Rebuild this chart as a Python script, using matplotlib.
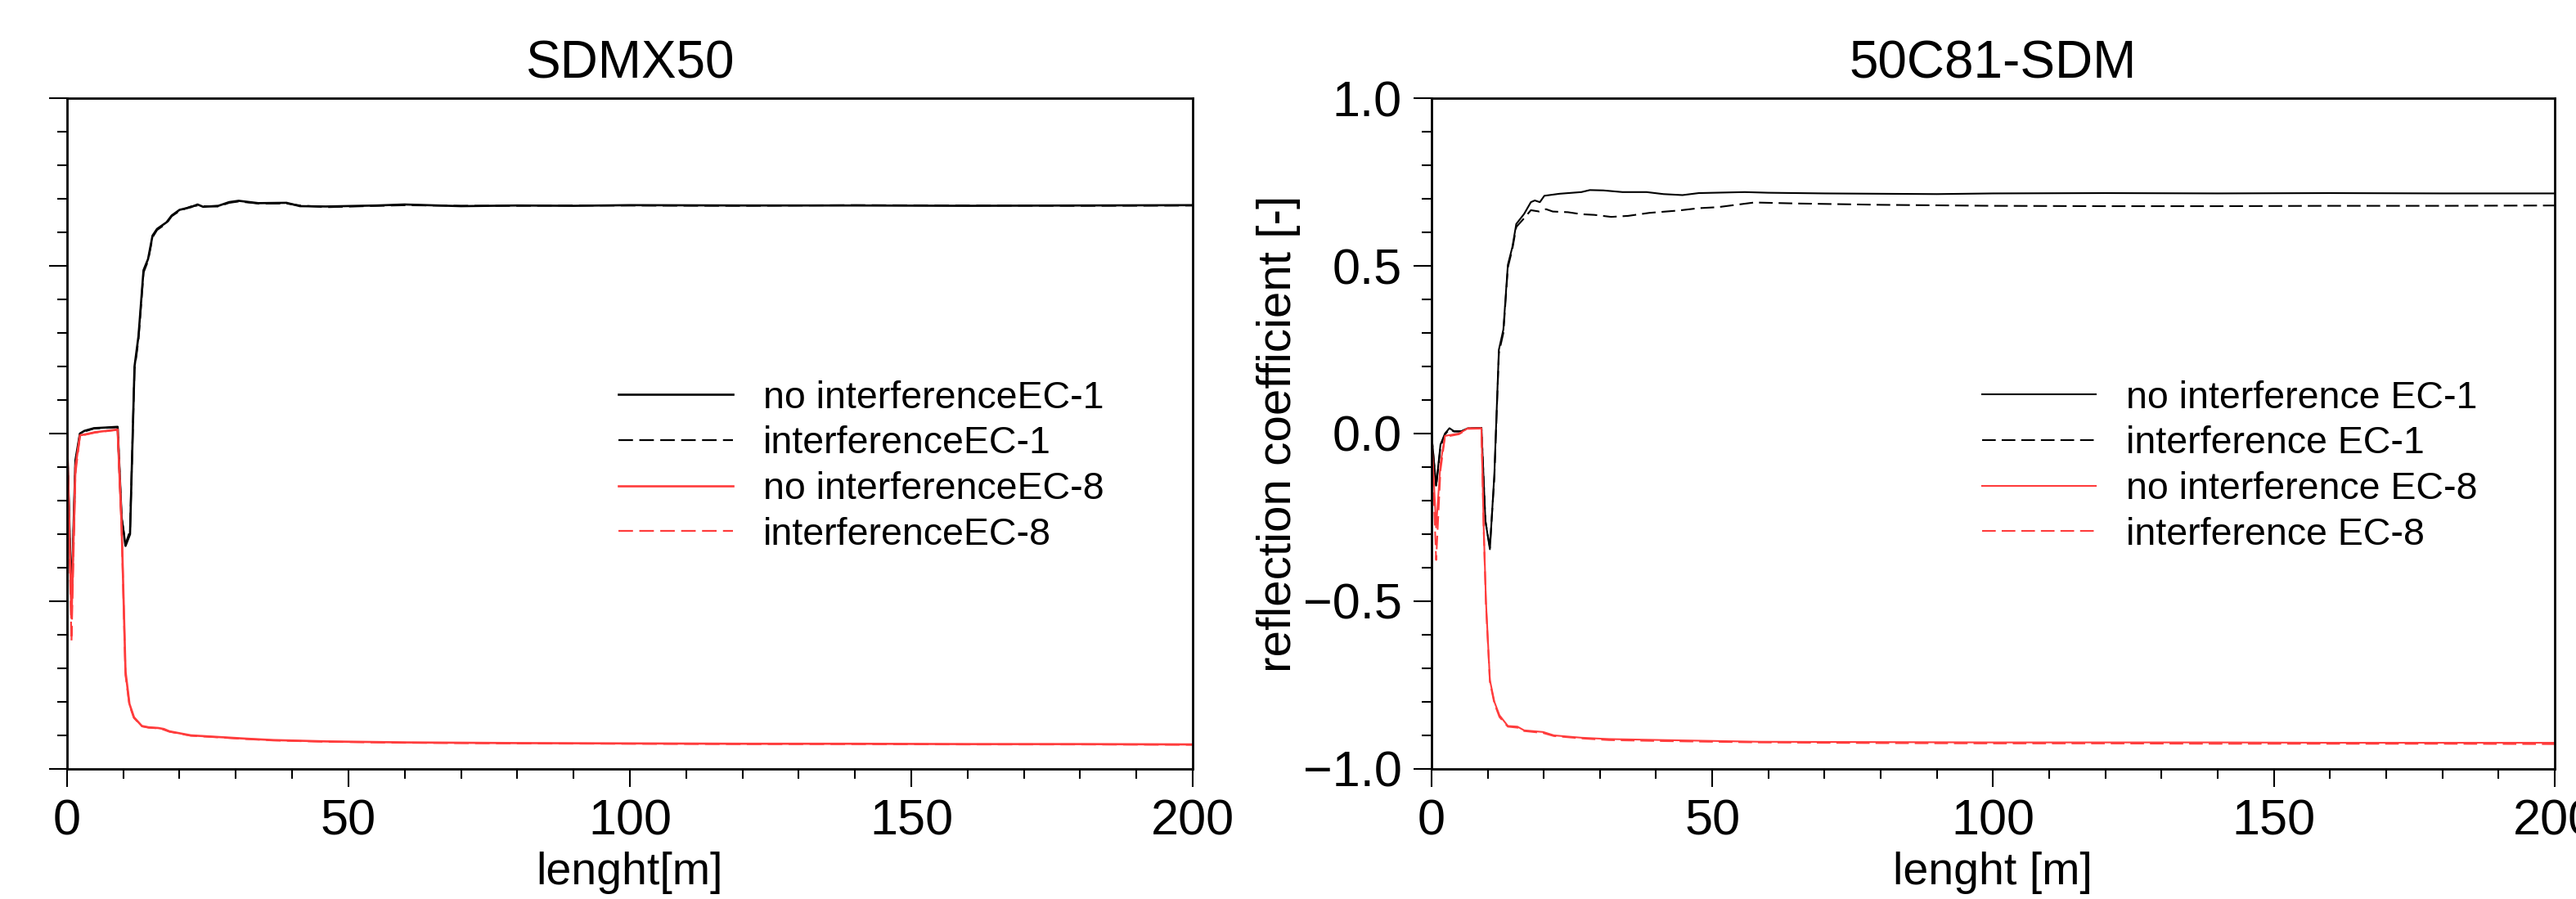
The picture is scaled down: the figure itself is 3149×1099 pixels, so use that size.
#!/usr/bin/env python3

import matplotlib
matplotlib.use('Agg')  # Use non-interactive backend
import matplotlib.pyplot as plt
from matplotlib.ticker import MultipleLocator

plt.rcParams['font.family'] = ['Liberation Sans', 'DejaVu Sans']

# ---- data (length in m, reflection coefficient) ----

# SDMX50
sdmx_x_ec1 = [0, 0.8, 1.5, 2.3, 3.1, 4.8, 7, 9, 9.7, 10.4, 11.2, 12, 12.7, 13.6, 14.4,
              15.2, 16, 17.7, 18.6, 20, 22, 23.2, 24.2, 26.9, 28.8, 30.5, 34, 39, 41.4,
              46, 55, 60, 70, 80, 90, 100, 120, 140, 160, 180, 200]
sdmx_noint_ec1 = [0, -0.50, -0.08, 0, 0.008, 0.016, 0.018, 0.02, -0.25, -0.335, -0.30,
                  0.20, 0.29, 0.487, 0.52, 0.59, 0.61, 0.63, 0.65, 0.667, 0.675, 0.683,
                  0.676, 0.679, 0.69, 0.694, 0.687, 0.688, 0.678, 0.677, 0.68, 0.683,
                  0.678, 0.68, 0.679, 0.681, 0.68, 0.68, 0.679, 0.68, 0.681]
sdmx_int_ec1 = [0, -0.52, -0.09, -0.002, 0.006, 0.015, 0.017, 0.019, -0.25, -0.33, -0.29,
                0.19, 0.28, 0.48, 0.515, 0.585, 0.607, 0.627, 0.648, 0.664, 0.677, 0.680,
                0.678, 0.677, 0.688, 0.692, 0.686, 0.686, 0.680, 0.675, 0.679, 0.681,
                0.679, 0.679, 0.680, 0.680, 0.679, 0.681, 0.680, 0.679, 0.680]

sdmx_x_ec8 = [0, 0.8, 1.5, 2.3, 3.1, 5, 7, 9, 9.7, 10.4, 11.1, 11.9, 13.3, 14.5, 16.2,
              17.2, 18.2, 20.1, 22, 27, 32, 36.6, 46, 60, 80, 100, 120, 140, 160, 180, 200]
sdmx_noint_ec8 = [0, -0.55, -0.10, -0.005, -0.003, 0.004, 0.008, 0.012, -0.27, -0.71,
                  -0.806, -0.846, -0.872, -0.876, -0.878, -0.881, -0.888, -0.894, -0.90,
                  -0.905, -0.91, -0.914, -0.918, -0.921, -0.923, -0.924, -0.925, -0.925,
                  -0.926, -0.926, -0.927]
sdmx_int_ec8 = [0, -0.62, -0.12, -0.008, -0.004, 0.003, 0.007, 0.011, -0.28, -0.72,
                -0.81, -0.848, -0.873, -0.877, -0.879, -0.883, -0.889, -0.895, -0.901,
                -0.906, -0.911, -0.915, -0.919, -0.922, -0.924, -0.925, -0.926, -0.926,
                -0.927, -0.927, -0.928]

# 50C81-SDM
c81_x_noint_ec1 = [0, 0.83, 1.6, 2.4, 3.2, 4, 5.3, 6.5, 8.9, 9.6, 10.4, 11.2, 12, 12.8,
                   13.6, 14.4, 15.1, 16.5, 17.7, 18.4, 19.3, 20.1, 22.8, 26.7, 28.2, 30.6,
                   34, 38.3, 41.3, 44.7, 47.6, 55.8, 60, 70, 80, 90, 100, 120, 140, 160,
                   180, 200]
c81_noint_ec1 = [0, -0.155, -0.033, 0, 0.016, 0.007, 0.007, 0.016, 0.017, -0.26, -0.345,
                 -0.12, 0.25, 0.31, 0.503, 0.556, 0.625, 0.655, 0.69, 0.695, 0.69, 0.709,
                 0.715, 0.72, 0.726, 0.725, 0.72, 0.72, 0.714, 0.711, 0.717, 0.72, 0.718,
                 0.716, 0.715, 0.714, 0.716, 0.717, 0.716, 0.717, 0.716, 0.716]

c81_x_int_ec1 = [0, 0.83, 1.6, 2.4, 3.2, 4, 5.3, 6.5, 8.9, 9.6, 10.4, 11.2, 12, 12.8,
                 13.6, 14.4, 15.1, 16.5, 17.7, 19.2, 20.4, 21.6, 24.3, 26.7, 29, 32, 35,
                 38.8, 44, 47.6, 51, 57.5, 65, 80, 100, 120, 140, 160, 180, 200]
c81_int_ec1 = [0, -0.16, -0.04, -0.003, 0.013, 0.006, 0.006, 0.015, 0.017, -0.26, -0.34,
               -0.13, 0.24, 0.30, 0.495, 0.55, 0.616, 0.642, 0.666, 0.662, 0.669, 0.662,
               0.66, 0.654, 0.652, 0.646, 0.649, 0.658, 0.665, 0.672, 0.675, 0.689, 0.686,
               0.682, 0.679, 0.678, 0.678, 0.679, 0.679, 0.68]

c81_x_ec8 = [0, 0.83, 1.6, 2.4, 4.9, 6.5, 8.9, 9.3, 9.7, 10.4, 11.2, 12.1, 13.6, 15.3,
             16.5, 19.9, 21.8, 26.7, 31.6, 41.3, 58.3, 80, 100, 120, 140, 160, 180, 200]
c81_noint_ec8 = [0, -0.28, -0.09, -0.007, 0, 0.016, 0.016, -0.28, -0.50, -0.735, -0.80,
                 -0.84, -0.872, -0.874, -0.885, -0.89, -0.90, -0.907, -0.911, -0.914,
                 -0.919, -0.92, -0.921, -0.921, -0.921, -0.922, -0.922, -0.922]
c81_int_ec8 = [0, -0.377, -0.11, -0.01, -0.002, 0.014, 0.015, -0.29, -0.51, -0.74, -0.805,
               -0.845, -0.874, -0.877, -0.887, -0.893, -0.902, -0.909, -0.914, -0.917,
               -0.921, -0.923, -0.924, -0.924, -0.925, -0.925, -0.925, -0.926]

RED = '#ff3c3c'
DASH = (0, (8, 3.5))


def style_axes(ax):
    ax.set_xlim(0, 200)
    ax.set_ylim(-1.0, 1.0)
    ax.xaxis.set_major_locator(MultipleLocator(50))
    ax.xaxis.set_minor_locator(MultipleLocator(10))
    ax.yaxis.set_major_locator(MultipleLocator(0.5))
    ax.yaxis.set_minor_locator(MultipleLocator(0.1))
    ax.tick_params(which='both', direction='out', top=False, right=False, width=1.5)
    ax.tick_params(which='major', length=16, labelsize=44, pad=10)
    ax.tick_params(which='minor', length=8.5)
    for s in ax.spines.values():
        s.set_linewidth(2.0)


def main():
    fig = plt.figure(figsize=(31.49, 10.99), dpi=100)
    ax1 = fig.add_axes([0.0260, 0.1447, 0.4370, 0.7461])
    ax2 = fig.add_axes([0.5557, 0.1447, 0.4360, 0.7461])

    # left panel
    ax1.plot(sdmx_x_ec1, sdmx_noint_ec1, color='black', lw=1.9, label='no interferenceEC-1')
    ax1.plot(sdmx_x_ec1, sdmx_int_ec1, color='black', lw=1.6, ls=DASH, label='interferenceEC-1')
    ax1.plot(sdmx_x_ec8, sdmx_noint_ec8, color=RED, lw=1.9, label='no interferenceEC-8')
    ax1.plot(sdmx_x_ec8, sdmx_int_ec8, color=RED, lw=1.6, ls=DASH, label='interferenceEC-8')
    style_axes(ax1)
    ax1.set_yticklabels([])
    ax1.set_title('SDMX50', fontsize=46, pad=18)
    ax1.set_xlabel('lenght[m]', fontsize=40, labelpad=6)

    # right panel
    ax2.plot(c81_x_noint_ec1, c81_noint_ec1, color='black', lw=1.5, label='no interference EC-1')
    ax2.plot(c81_x_int_ec1, c81_int_ec1, color='black', lw=1.5, ls=DASH, label='interference EC-1')
    ax2.plot(c81_x_ec8, c81_noint_ec8, color=RED, lw=1.5, label='no interference EC-8')
    ax2.plot(c81_x_ec8, c81_int_ec8, color=RED, lw=1.5, ls=DASH, label='interference EC-8')
    style_axes(ax2)
    ax2.set_title('50C81-SDM', fontsize=46, pad=18)
    ax2.set_xlabel('lenght [m]', fontsize=40, labelpad=6)
    ax2.set_ylabel('reflection coefficient [-]', fontsize=42, labelpad=2)

    for ax in (ax1, ax2):
        ax.legend(loc='center left', bbox_to_anchor=(0.49, 0.451), frameon=False,
                  fontsize=33.5, handlelength=3.0, handletextpad=0.8, labelspacing=0.25,
                  borderpad=0, borderaxespad=0)

    fig.savefig('out.png', dpi=100)


if __name__ == "__main__":
    main()
